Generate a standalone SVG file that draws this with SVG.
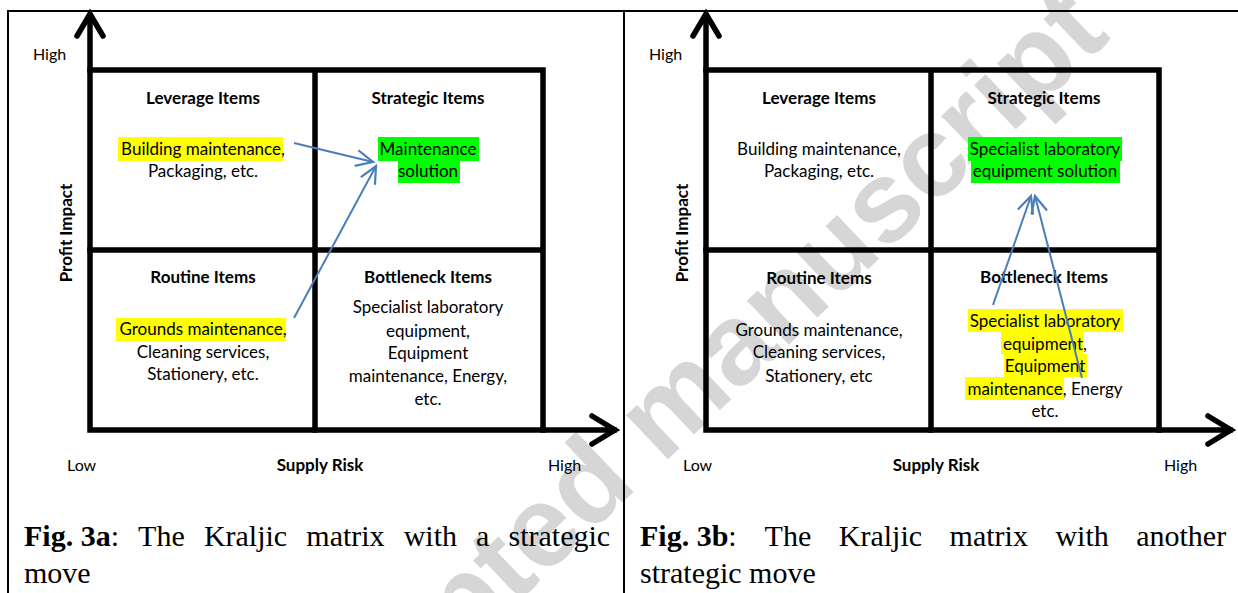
<svg xmlns="http://www.w3.org/2000/svg" width="1238" height="593" viewBox="0 0 1238 593">
<defs>
<style>
.ax{stroke:#000;stroke-width:5.5;fill:none;stroke-linecap:square}
.ah{stroke:#000;stroke-width:5.5;fill:none;stroke-linecap:round;stroke-linejoin:miter}
.t{font-family:Lato,"Liberation Sans",sans-serif;font-size:17px;fill:#000;text-anchor:middle}
.b{font-weight:bold}
.l{text-anchor:start}
.cap{font-family:"Liberation Serif","Times New Roman",serif;font-size:30px;fill:#000}
.y{fill:#ffff00}
.g{fill:#00ff00}
.conn{stroke:#4a7ebb;stroke-width:2;fill:none}
.wm{font-family:"Liberation Sans",Arial,sans-serif;font-weight:bold;font-size:115px;fill:#d6d6d6}
</style>
<marker id="arr" markerUnits="userSpaceOnUse" markerWidth="40" markerHeight="40" refX="0" refY="0" viewBox="-20 -20 40 40" orient="auto">
<path d="M-17,-8 L0,0 L-17,8" stroke="#4a7ebb" stroke-width="2.2" fill="none"/>
</marker>
</defs>
<rect width="1238" height="593" fill="#fff"/>
<text class="wm" text-anchor="end" transform="translate(1112,38) rotate(-43.5)">Accepted manuscript</text>
<g id="frame" stroke="#000" stroke-width="2" fill="none">
<path d="M8,593 V11 H1238"/>
<path d="M624,11 V593"/>
</g>

<g id="panel-a">
<g id="axes-a">
<path class="ax" d="M90,16 V430 H614"/>
<path class="ah" d="M77,36 L90,14 L103,36"/>
<path class="ah" d="M592,416 L615,430 L592,444"/>
<path class="ax" d="M90,70 H543 V430 M315,70 V430 M90,250 H543"/>
<text class="t l" x="33" y="60" style="font-size:16px">High</text>
<text class="t b" transform="translate(72,233) rotate(-90)">Profit Impact</text>
<text class="t l" x="67" y="471" style="font-size:16px">Low</text>
<text class="t b" x="320" y="471">Supply Risk</text>
<text class="t l" x="548" y="471" style="font-size:16px">High</text>
</g>
<g id="leverage-a">
<text class="t b" x="203" y="104">Leverage Items</text>
<rect class="y" x="118" y="137" width="165" height="24"/>
<text class="t" x="203" y="155">Building maintenance,</text>
<text class="t" x="203" y="177">Packaging, etc.</text>
</g>
<g id="strategic-a">
<text class="t b" x="428" y="104">Strategic Items</text>
<rect class="g" x="378" y="137" width="101" height="24"/>
<rect class="g" x="398" y="161" width="62" height="22"/>
<text class="t" x="428" y="155">Maintenance</text>
<text class="t" x="428" y="177">solution</text>
</g>
<g id="routine-a">
<text class="t b" x="203" y="283">Routine Items</text>
<rect class="y" x="116" y="318" width="170" height="23"/>
<text class="t" x="203" y="335">Grounds maintenance,</text>
<text class="t" x="203" y="358">Cleaning services,</text>
<text class="t" x="203" y="380">Stationery, etc.</text>
</g>
<g id="bottleneck-a">
<text class="t b" x="428" y="283">Bottleneck Items</text>
<text class="t" x="428" y="313">Specialist laboratory</text>
<text class="t" x="428" y="337">equipment,</text>
<text class="t" x="428" y="359">Equipment</text>
<text class="t" x="428" y="382">maintenance, Energy,</text>
<text class="t" x="428" y="405">etc.</text>
</g>
<g id="connectors-a">
<path class="conn" marker-end="url(#arr)" d="M294,143 L373,162"/>
<path class="conn" marker-end="url(#arr)" d="M294,318 L376,166"/>
</g>
<g id="caption-a">
<text class="cap" y="546"><tspan x="24" font-weight="bold">Fig. 3a</tspan><tspan>:</tspan><tspan x="138.1">The</tspan><tspan x="203.9">Kraljic</tspan><tspan x="306.3">matrix</tspan><tspan x="403.7">with</tspan><tspan x="476.1">a</tspan><tspan x="508.5">strategic</tspan></text>
<text class="cap" x="24" y="583">move</text>
</g>
</g>

<g id="panel-b">
<g id="axes-b">
<path class="ax" d="M706,16 V430 H1230"/>
<path class="ah" d="M693,36 L706,14 L719,36"/>
<path class="ah" d="M1208,416 L1231,430 L1208,444"/>
<path class="ax" d="M706,70 H1159 V430 M931,70 V430 M706,250 H1159"/>
<text class="t l" x="649" y="60" style="font-size:16px">High</text>
<text class="t b" transform="translate(688,233) rotate(-90)">Profit Impact</text>
<text class="t l" x="683" y="471" style="font-size:16px">Low</text>
<text class="t b" x="936" y="471">Supply Risk</text>
<text class="t l" x="1164" y="471" style="font-size:16px">High</text>
</g>
<g id="leverage-b">
<text class="t b" x="819" y="104">Leverage Items</text>
<text class="t" x="819" y="155">Building maintenance,</text>
<text class="t" x="819" y="177">Packaging, etc.</text>
</g>
<g id="strategic-b">
<text class="t b" x="1044" y="104">Strategic Items</text>
<rect class="g" x="968" y="137" width="154" height="24"/>
<rect class="g" x="971" y="161" width="149" height="22"/>
<text class="t" x="1045" y="155">Specialist laboratory</text>
<text class="t" x="1045" y="177">equipment solution</text>
</g>
<g id="routine-b">
<text class="t b" x="819" y="284">Routine Items</text>
<text class="t" x="819" y="336">Grounds maintenance,</text>
<text class="t" x="819" y="358">Cleaning services,</text>
<text class="t" x="819" y="382">Stationery, etc</text>
</g>
<g id="bottleneck-b">
<text class="t b" x="1044" y="283">Bottleneck Items</text>
<rect class="y" x="968" y="309" width="155" height="23"/>
<rect class="y" x="1001" y="332" width="82" height="22"/>
<rect class="y" x="1004" y="354" width="83" height="23"/>
<rect class="y" x="965" y="377" width="99" height="23"/>
<text class="t" x="1045" y="327">Specialist laboratory</text>
<text class="t" x="1045" y="350">equipment,</text>
<text class="t" x="1045" y="372">Equipment</text>
<text class="t" x="1045" y="395">maintenance, Energy</text>
<text class="t" x="1045" y="417">etc.</text>
</g>
<g id="connectors-b">
<path class="conn" marker-end="url(#arr)" d="M993,305 L1031,196"/>
<path class="conn" marker-end="url(#arr)" d="M1082,378 L1035,196"/>
</g>
<g id="caption-b">
<text class="cap" y="546"><tspan x="640" font-weight="bold">Fig. 3b</tspan><tspan>:</tspan><tspan x="764.6">The</tspan><tspan x="838.8">Kraljic</tspan><tspan x="949.6">matrix</tspan><tspan x="1055.4">with</tspan><tspan x="1136.2">another</tspan></text>
<text class="cap" x="640" y="583">strategic move</text>
</g>
</g>
</svg>
